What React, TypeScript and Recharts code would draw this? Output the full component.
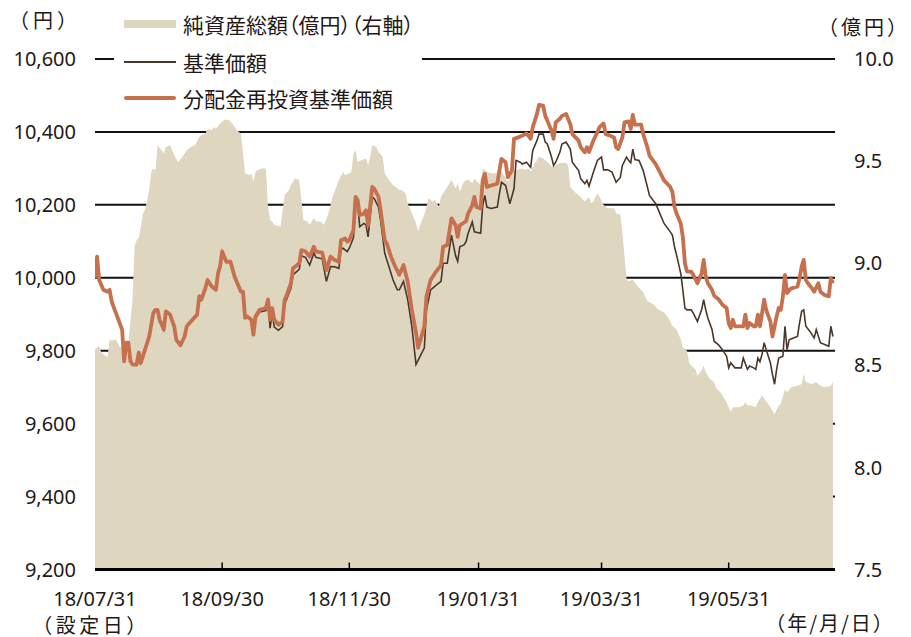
import React from "react";
import { ComposedChart, Area, Line, XAxis, YAxis, CartesianGrid, Legend } from "recharts";

const FONT = "'Noto Sans', 'Noto Sans CJK JP', sans-serif";
const CJK_FONT = "'Noto Sans CJK JP', 'Noto Sans', sans-serif";
const TEXT = "#231815";
const ASSET_COLOR = "#dfd6c0";
const NAV_COLOR = "#4a372c";
const REINVEST_COLOR = "#c7704e";

// x axis: dates shown as yy/mm/dd, data keyed by days since 設定日 (18/07/31)
const tickLabels = ["18/07/31", "18/09/30", "18/11/30", "19/01/31", "19/03/31", "19/05/31"];
const dayOf = (s: string) => {
  const [y, m, d] = s.split("/").map(Number);
  return Math.round((Date.UTC(2000 + y, m - 1, d) - Date.UTC(2018, 6, 31)) / 86400000);
};
const tickDays = tickLabels.map(dayOf);

const leftTicks = [9200, 9400, 9600, 9800, 10000, 10200, 10400, 10600];
const rightTicks = [7.5, 8.0, 8.5, 9.0, 9.5, 10.0];

// 分配金再投資基準価額 (円)
const reinvestDays = [0,1,2,4,6,7,8,10,13,14,15,16,17,18,20,21,22,24,26,28,29,30,31,33,34,36,38,39,41,43,44,46,49,50,51,53,54,56,58,59,60,61,63,65,67,70,71,72,73,75,76,77,79,82,83,84,85,86,88,90,91,92,94,95,97,98,99,101,103,105,106,109,111,113,115,117,118,120,121,122,124,125,126,127,129,130,131,133,134,136,137,139,140,142,144,146,148,150,152,154,155,156,158,159,161,163,166,167,169,171,173,174,175,178,179,181,182,183,185,186,187,188,190,193,194,195,197,198,200,201,203,205,207,209,210,212,213,215,216,217,219,220,221,223,224,226,228,229,232,233,235,236,237,239,241,242,244,245,247,249,250,251,253,254,256,257,258,259,260,262,263,265,266,269,271,273,276,277,278,279,281,282,283,284,286,287,289,291,292,293,294,296,297,299,301,303,304,305,306,307,309,311,312,313,314,316,317,318,319,320,321,322,324,325,327,328,329,330,331,332,334,337,338,339,340,341,342,344,345,347,348,350,352,353,354];
const reinvestValues = [10000,10058,9994,9967,9962,9967,9935,9904,9858,9771,9822,9822,9771,9762,9762,9795,9767,9803,9839,9904,9912,9912,9885,9858,9908,9899,9867,9830,9815,9839,9867,9880,9899,9949,9940,9972,9994,9976,9967,10012,10031,10072,10044,10044,10003,9962,9962,9890,9894,9885,9844,9894,9912,9917,9940,9885,9917,9885,9871,9880,9940,9953,9985,10026,10035,10040,10076,10072,10058,10085,10072,10069,10021,10058,10049,10044,10103,10108,10099,10103,10131,10222,10213,10172,10176,10185,10144,10249,10244,10222,10185,10103,10094,10058,10031,10008,10035,9990,9912,9849,9808,9826,9867,9949,9994,10012,10035,10085,10090,10163,10144,10112,10144,10155,10176,10199,10222,10194,10190,10267,10285,10249,10253,10258,10294,10326,10317,10276,10294,10381,10385,10390,10396,10381,10413,10449,10474,10472,10444,10431,10403,10381,10426,10436,10444,10449,10422,10394,10376,10358,10344,10358,10345,10375,10399,10413,10423,10394,10390,10385,10358,10353,10385,10426,10429,10408,10447,10420,10420,10420,10394,10358,10335,10312,10290,10267,10249,10235,10194,10176,10149,10112,10040,10017,10017,10008,9985,10012,10049,10003,9985,9967,9951,9942,9926,9917,9876,9862,9885,9867,9867,9867,9899,9862,9876,9867,9867,9899,9867,9903,9940,9912,9880,9839,9894,9917,9912,9949,10008,9958,9971,9976,9999,10031,10049,9994,9985,9971,9962,9985,9962,9953,9949,9999,9985];

// 基準価額 (円)
const navDays = [0,1,2,4,6,7,8,10,13,14,15,16,17,18,20,21,22,24,26,28,29,30,31,33,34,36,38,39,41,43,44,46,49,50,51,53,54,56,58,59,60,61,63,65,67,70,71,72,73,75,76,77,79,82,83,84,85,86,88,90,91,92,94,95,97,98,99,101,103,105,106,109,111,113,115,117,118,119,121,122,124,125,126,127,129,130,131,133,134,136,137,139,141,143,145,146,148,150,152,154,156,158,159,161,164,166,167,169,171,173,174,175,177,178,179,181,182,185,186,187,188,190,193,194,195,197,199,201,202,204,205,207,209,210,212,213,215,216,217,219,220,221,223,224,226,228,229,232,233,235,236,237,239,241,243,244,246,248,250,252,253,255,256,257,258,259,261,263,265,266,269,271,273,276,277,278,279,281,282,283,284,286,287,289,291,292,293,294,296,297,299,301,303,304,305,307,310,311,313,314,316,317,318,319,320,321,322,324,325,326,327,328,330,331,332,333,335,337,338,339,340,341,343,345,346,348,350,352,353,354];
const navValues = [10000,10058,9994,9967,9962,9967,9935,9904,9858,9771,9822,9822,9771,9762,9762,9795,9767,9803,9839,9904,9912,9912,9885,9858,9908,9899,9867,9830,9815,9839,9867,9880,9899,9949,9940,9972,9994,9976,9967,10012,10031,10072,10044,10044,10003,9962,9962,9890,9894,9885,9844,9888,9906,9910,9930,9862,9905,9865,9856,9866,9930,9942,9972,10008,10018,10024,10060,10056,10035,10068,10056,10052,9990,10031,10030,10026,10078,10081,10072,10081,10110,10203,10200,10140,10149,10145,10112,10222,10217,10194,10158,10067,10031,9994,9967,9967,9990,9940,9867,9762,9785,9808,9912,9967,9981,9990,10040,10040,10117,10060,10045,10085,10090,10099,10122,10153,10126,10122,10199,10226,10194,10190,10194,10231,10262,10253,10203,10244,10322,10317,10312,10317,10303,10349,10376,10394,10394,10372,10367,10331,10308,10317,10344,10367,10372,10353,10317,10294,10272,10258,10267,10251,10288,10322,10331,10296,10296,10290,10262,10275,10308,10331,10322,10315,10353,10324,10322,10294,10249,10226,10203,10176,10149,10126,10117,10085,10062,10012,9967,9917,9912,9912,9903,9880,9912,9940,9912,9890,9858,9826,9817,9803,9785,9753,9767,9753,9753,9780,9749,9758,9753,9749,9780,9770,9790,9822,9803,9767,9735,9708,9749,9780,9785,9867,9803,9830,9835,9839,9876,9908,9912,9867,9853,9835,9858,9822,9817,9812,9867,9839];

// 純資産総額 (億円, 右軸)
const assetDays = [0,2,3,6,7,8,10,12,14,16,18,19,20,21,22,23,24,25,26,27,28,29,30,32,33,34,36,38,40,42,44,46,48,50,51,53,54,56,57,58,60,62,64,66,68,70,71,72,74,75,76,77,78,80,82,83,84,85,86,89,90,91,93,94,96,98,99,100,102,103,105,106,108,110,112,114,117,119,120,122,123,124,125,126,128,130,131,132,133,135,136,138,139,141,143,146,147,149,150,152,154,155,156,158,159,160,162,163,165,166,168,169,171,173,174,175,177,179,181,182,185,186,188,190,193,195,198,200,202,205,206,208,209,211,213,215,217,219,221,223,226,227,228,230,233,235,237,238,239,241,242,244,246,249,250,252,253,254,255,256,258,259,261,263,265,268,270,273,275,277,279,281,282,284,285,286,288,289,291,292,293,295,297,298,300,301,303,305,306,309,311,312,313,315,317,318,320,321,323,325,326,328,329,331,332,334,337,339,340,341,344,346,348,350,353,354];
const assetValues = [8.579,8.595,8.563,8.539,8.628,8.62,8.628,8.587,8.603,8.612,8.823,9.082,9.115,9.123,9.18,9.245,9.261,9.31,9.358,9.448,9.464,9.455,9.578,9.553,9.537,9.569,9.578,9.529,9.496,9.521,9.553,9.569,9.578,9.618,9.626,9.635,9.659,9.651,9.667,9.659,9.683,9.703,9.703,9.683,9.651,9.635,9.537,9.44,9.431,9.44,9.399,9.448,9.456,9.464,9.464,9.277,9.212,9.204,9.188,9.18,9.261,9.334,9.358,9.383,9.415,9.407,9.31,9.212,9.204,9.188,9.22,9.204,9.204,9.188,9.245,9.326,9.407,9.448,9.431,9.44,9.448,9.537,9.553,9.496,9.505,9.513,9.48,9.521,9.578,9.569,9.545,9.521,9.44,9.407,9.383,9.358,9.358,9.342,9.294,9.245,9.196,9.155,9.188,9.237,9.277,9.318,9.301,9.31,9.277,9.326,9.358,9.375,9.407,9.367,9.391,9.35,9.399,9.41,9.391,9.415,9.383,9.464,9.448,9.44,9.44,9.448,9.399,9.448,9.456,9.464,9.456,9.464,9.448,9.489,9.521,9.513,9.496,9.472,9.48,9.489,9.492,9.48,9.375,9.35,9.326,9.301,9.326,9.294,9.301,9.342,9.326,9.285,9.269,9.269,9.245,9.237,9.148,9.034,8.92,8.912,8.92,8.904,8.88,8.856,8.815,8.798,8.774,8.758,8.733,8.693,8.676,8.628,8.587,8.571,8.514,8.498,8.482,8.449,8.474,8.498,8.466,8.433,8.417,8.388,8.368,8.352,8.319,8.273,8.295,8.295,8.303,8.319,8.303,8.303,8.295,8.319,8.352,8.336,8.311,8.278,8.262,8.303,8.311,8.384,8.368,8.392,8.4,8.408,8.457,8.417,8.408,8.417,8.4,8.392,8.4,8.417];

const toRows = (days: number[], values: number[]) => days.map((day, i) => ({ day, v: values[i] }));
const assetRows = toRows(assetDays, assetValues);
const navRows = toRows(navDays, navValues);
const reinvestRows = toRows(reinvestDays, reinvestValues);

function DateTick(props: any) {
  const { x, y, payload } = props;
  const i = tickDays.indexOf(payload.value);
  return (
    <g>
      {i > 0 && <line x1={x} x2={x} y1={y - 7} y2={y} stroke="#000" strokeWidth={1.5} />}
      <text x={x} y={y + 36} textAnchor="middle" fontSize={20} fill={TEXT} fontFamily={FONT}>
        {tickLabels[i]}
      </text>
      {i === 0 && (
        <text x={x - 4} y={y + 63} textAnchor="middle" fontSize={20} fill={TEXT} fontFamily={CJK_FONT} letterSpacing={3.5}>
          （設定日）
        </text>
      )}
    </g>
  );
}

function LegendBox() {
  const row = (top: number, swatch: React.ReactNode, label: string) => (
    <div style={{ position: "absolute", left: 124, top: top - 15, height: 30, display: "flex", alignItems: "center", whiteSpace: "nowrap" }}>
      <div style={{ width: 52, display: "flex", alignItems: "center" }}>{swatch}</div>
      <span style={{ marginLeft: 7, fontSize: 21, color: TEXT, fontFeatureSettings: '"palt"' }}>{label}</span>
    </div>
  );
  return (
    <div style={{ position: "relative", width: 430, height: 112, fontFamily: CJK_FONT }}>
      <div style={{ position: "absolute", left: 114, top: 50, width: 308, height: 18, background: "#fff" }} />
      {row(24, <div style={{ width: 52, height: 8, background: ASSET_COLOR }} />, "純資産総額（億円）（右軸）")}
      {row(62, <div style={{ width: 52, height: 2, background: NAV_COLOR }} />, "基準価額")}
      {row(98, <div style={{ width: 52, height: 4.5, borderRadius: 2, background: REINVEST_COLOR }} />, "分配金再投資基準価額")}
    </div>
  );
}

const unitStyle: React.CSSProperties = {
  position: "absolute",
  fontSize: 20,
  color: TEXT,
  fontFamily: CJK_FONT,
  whiteSpace: "nowrap",
  transform: "translate(-50%, -50%)",
  lineHeight: 1,
};

export default function App() {
  return (
    <div style={{ position: "relative", width: 911, height: 637, fontFamily: FONT, background: "#fff" }}>
      <style>{`body{margin:0}`}</style>
      <ComposedChart width={911} height={637} margin={{ top: 59, right: 0, bottom: 0, left: 0 }}>
        <CartesianGrid yAxisId="left" vertical={false} stroke="#111" strokeWidth={2} />
        <XAxis
          dataKey="day"
          type="number"
          domain={[0, 355]}
          ticks={tickDays}
          interval={0}
          height={67.5}
          allowDataOverflow
          axisLine={{ stroke: "#000", strokeWidth: 3 }}
          tickLine={false}
          tickSize={0}
          tickMargin={0}
          tick={<DateTick />}
        />
        <YAxis
          yAxisId="left"
          domain={[9200, 10600]}
          ticks={leftTicks}
          interval={0}
          width={95}
          axisLine={false}
          tickLine={false}
          tickSize={0}
          tickMargin={19}
          tick={{ fontSize: 20, fill: TEXT, fontFamily: FONT }}
          tickFormatter={(v: number) => v.toLocaleString("en-US")}
        />
        <YAxis
          yAxisId="right"
          orientation="right"
          domain={[7.5, 10]}
          ticks={rightTicks}
          interval={0}
          width={76}
          axisLine={false}
          tickLine={false}
          tickSize={0}
          tickMargin={19}
          tick={{ fontSize: 20, fill: TEXT, fontFamily: FONT }}
          tickFormatter={(v: number) => v.toFixed(1)}
        />
        <Area
          yAxisId="right"
          data={assetRows}
          dataKey="v"
          type="linear"
          fill={ASSET_COLOR}
          fillOpacity={1}
          stroke="none"
          isAnimationActive={false}
        />
        <Line
          yAxisId="left"
          data={navRows}
          dataKey="v"
          type="linear"
          stroke={NAV_COLOR}
          strokeWidth={1.6}
          dot={false}
          isAnimationActive={false}
        />
        <Line
          yAxisId="left"
          data={reinvestRows}
          dataKey="v"
          type="linear"
          stroke={REINVEST_COLOR}
          strokeWidth={3.8}
          strokeLinejoin="round"
          dot={false}
          isAnimationActive={false}
        />
        <Legend
          layout="horizontal"
          verticalAlign="middle"
          align="center"
          content={() => <LegendBox />}
          wrapperStyle={{ position: "absolute", left: 0, top: 0, width: 430, height: 112 }}
        />
      </ComposedChart>
      <span style={{ ...unitStyle, left: 45, top: 20, letterSpacing: 4 }}>（円）</span>
      <span style={{ ...unitStyle, left: 864, top: 27, letterSpacing: 3 }}>（億円）</span>
      <span style={{ ...unitStyle, left: 830, top: 623, letterSpacing: 2 }}>（年/月/日）</span>
    </div>
  );
}
